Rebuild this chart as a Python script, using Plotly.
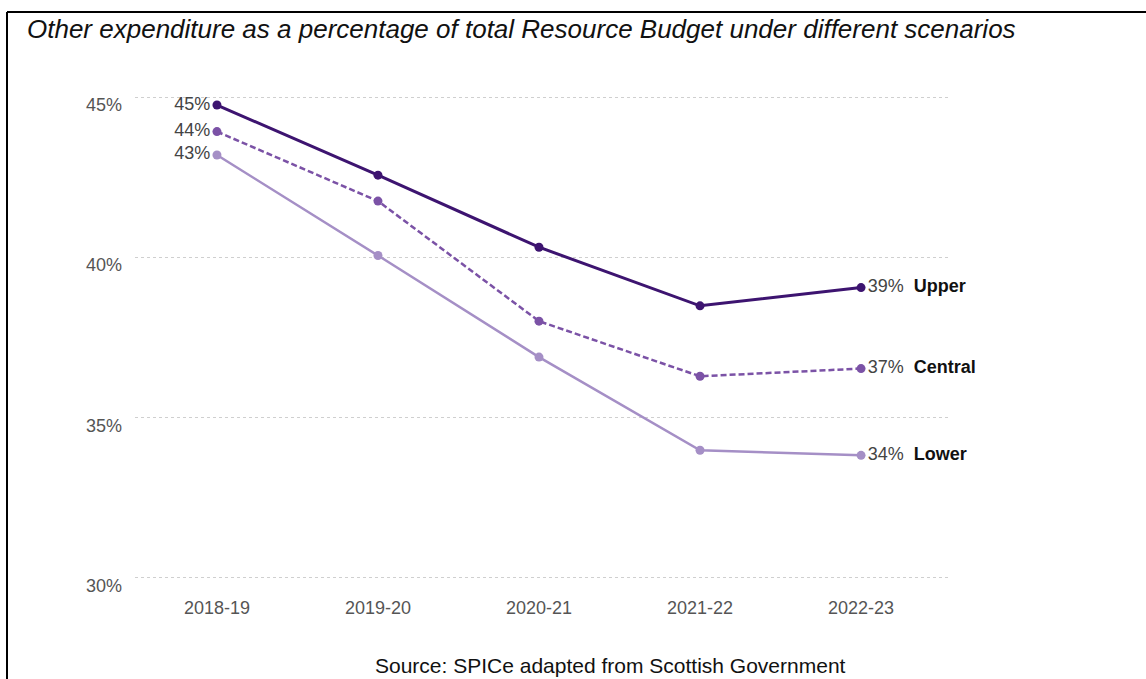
import plotly.graph_objects as go

# Financial years and scenario series (% of total Resource Budget)
years = ["2018-19", "2019-20", "2020-21", "2021-22", "2022-23"]
upper = [44.75, 42.56, 40.31, 38.48, 39.05]
central = [43.92, 41.75, 38.0, 36.28, 36.52]
lower = [43.19, 40.05, 36.88, 33.97, 33.81]
scenario_names = ["Upper", "Central", "Lower"]
y_ticks = [30, 35, 40, 45]

title_text = "Other expenditure as a percentage of total Resource Budget under different scenarios"
source_text = "Source: SPICe adapted from Scottish Government"

FONT = "Liberation Sans, Arial, sans-serif"

# Plot-area geometry in pixels (used to place the frame and texts in paper units)
W_PX, H_PX = 1146, 679
L, R, T, B = 135, 948, 65, 595


def px2x(px):
    return (px - L) / (R - L)


def py2y(py):
    return (B - py) / (B - T)


styles = [
    dict(color="#3d1470", dash="solid", width=3),
    dict(color="#7b52a6", dash="6px,3px", width=2.5),
    dict(color="#a58fc6", dash="solid", width=2.5),
]

fig = go.Figure()
for name, vals, st in zip(scenario_names, [upper, central, lower], styles):
    texts = [f"{round(v)}%" for v in vals]
    labels = [texts[0], "", "", "",
              texts[-1] + "\u00a0\u00a0" + f'<span style="color:#111"><b>{name}</b></span>']
    positions = ["middle left", "middle center", "middle center", "middle center", "middle right"]
    fig.add_trace(go.Scatter(
        x=years, y=vals, name=name,
        mode="lines+markers+text",
        line=dict(color=st["color"], dash=st["dash"], width=st["width"]),
        marker=dict(color=st["color"], size=9),
        text=labels, textposition=positions,
        textfont=dict(family=FONT, size=18, color="#444444"),
        cliponaxis=False,
        showlegend=False,
    ))

fig.update_layout(
    width=W_PX, height=H_PX,
    margin=dict(l=L, r=W_PX - R, t=T, b=H_PX - B),
    paper_bgcolor="white", plot_bgcolor="white",
    font=dict(family=FONT, color="#555555"),
    xaxis=dict(
        type="category", range=[-0.509, 4.54],
        showgrid=False, zeroline=False, showline=False, ticks="",
        tickfont=dict(size=18, color="#555555"),
    ),
    yaxis=dict(
        range=[29.45, 46], tickvals=y_ticks,
        ticktext=[f"{t}%" for t in y_ticks],
        showgrid=True, gridcolor="#cfcfcf", griddash="dot", gridwidth=1,
        zeroline=False, showline=False, ticks="",
        ticklabelstandoff=12, ticklabelshift=8,
        tickfont=dict(size=18, color="#555555"),
    ),
)

# Frame around the figure (top and left edges)
frame = dict(type="line", xref="paper", yref="paper", line=dict(color="black", width=2))
fig.add_shape(**frame, x0=px2x(7), y0=py2y(12), x1=px2x(W_PX), y1=py2y(12))
fig.add_shape(**frame, x0=px2x(7), y0=py2y(12), x1=px2x(7), y1=py2y(H_PX + 2))

fig.add_annotation(
    text=f"<i>{title_text}</i>", x=px2x(25), y=py2y(29),
    xref="paper", yref="paper", xanchor="left", yanchor="middle",
    showarrow=False, font=dict(family=FONT, size=26, color="#111111"),
)
fig.add_annotation(
    text=source_text, x=px2x(610), y=py2y(665),
    xref="paper", yref="paper", xanchor="center", yanchor="middle",
    showarrow=False, font=dict(family=FONT, size=21, color="#111111"),
)

fig.write_html("out.html")
